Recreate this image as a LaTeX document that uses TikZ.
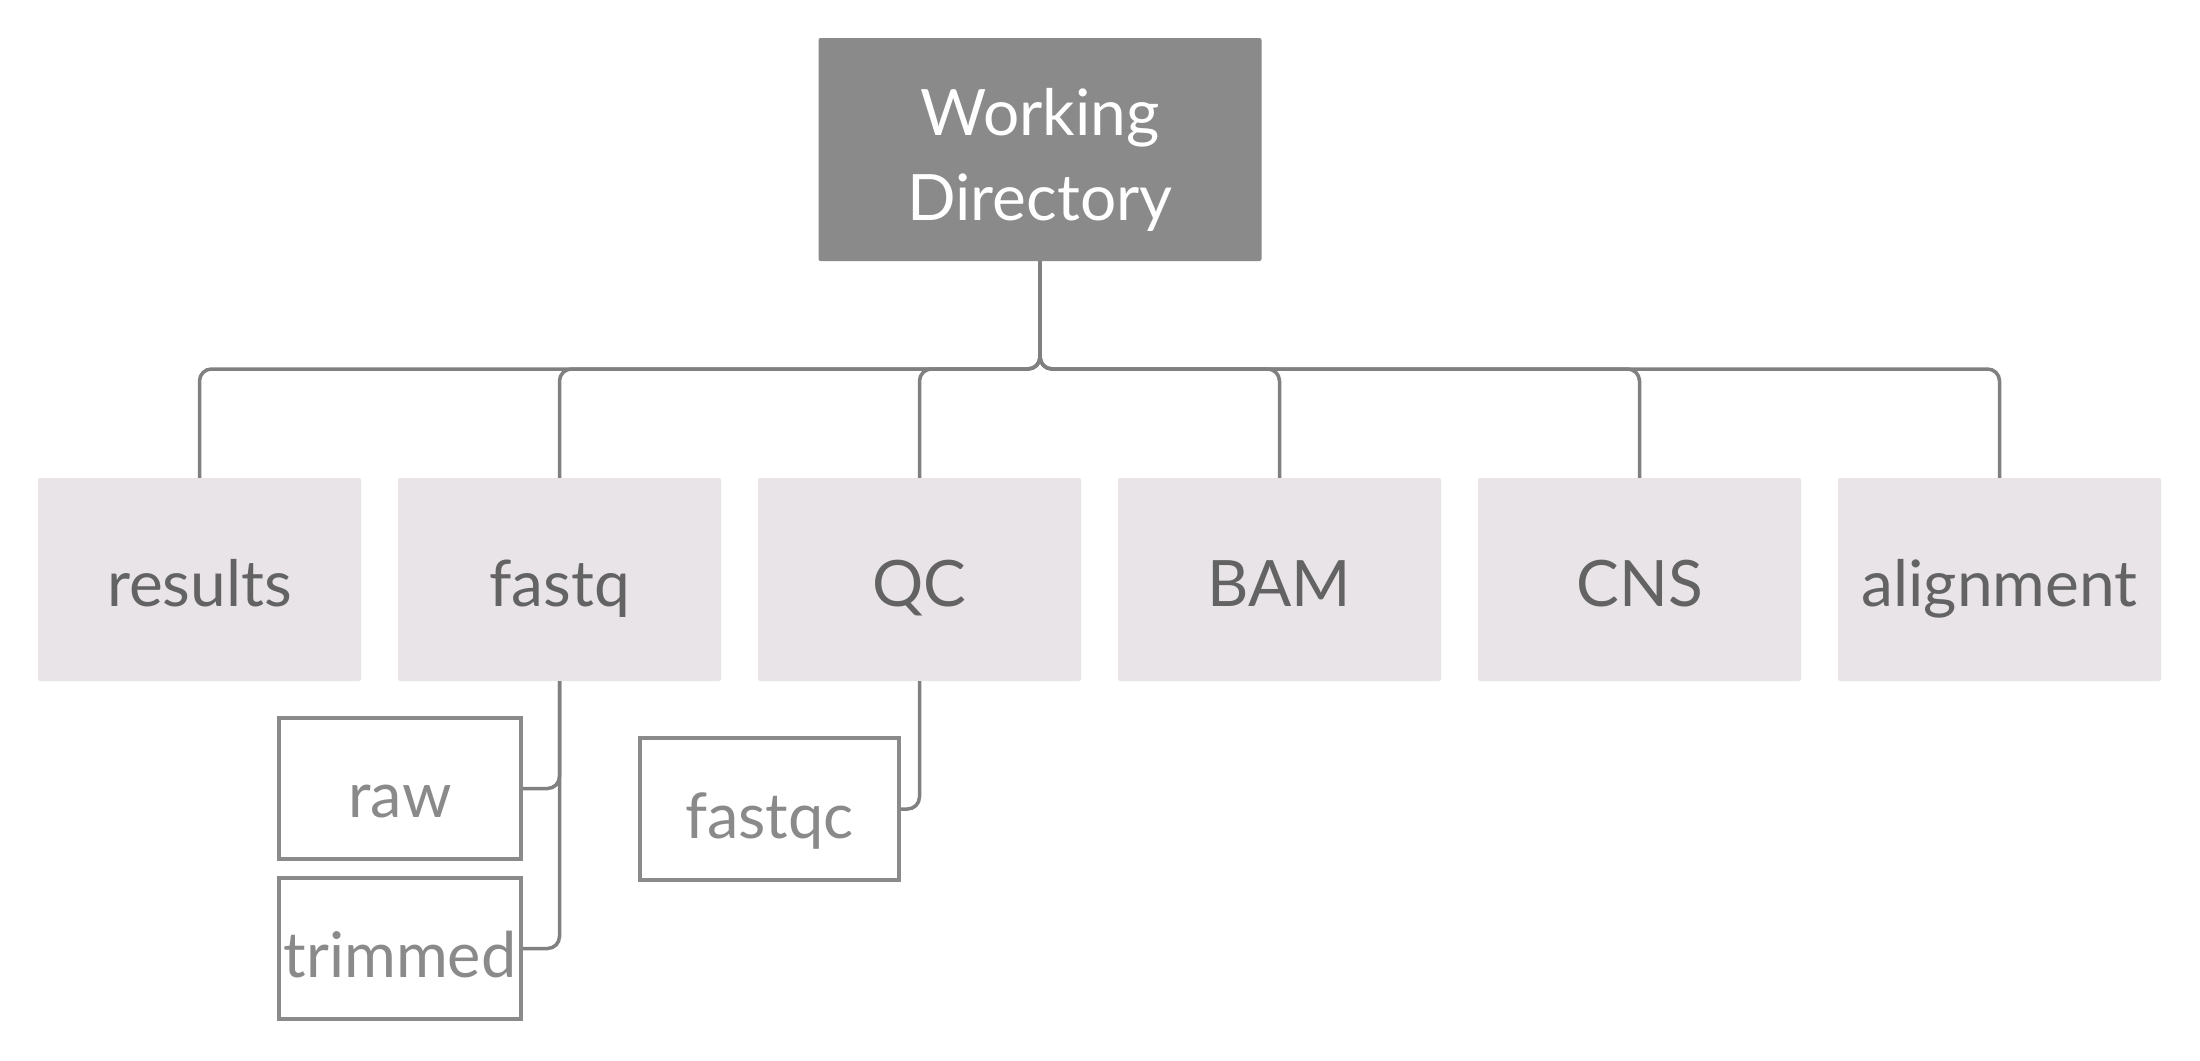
\documentclass[tikz,border=0pt]{standalone}
\usepackage{fontspec}
\setmainfont{Lato}
\definecolor{topfill}{HTML}{8A8A8A}
\definecolor{rowfill}{HTML}{E8E4E8}
\definecolor{rowtext}{HTML}{636363}
\definecolor{linecol}{HTML}{808080}
\definecolor{subcol}{HTML}{8A8A8A}
\begin{document}
\begin{tikzpicture}[x=1pt,y=-1pt,
  topbox/.style={fill=topfill,draw=none,rounded corners=2pt,minimum width=443pt,minimum height=223pt,inner sep=0pt,text=white,align=center,font=\fontsize{64}{85}\selectfont,text height=141pt,text depth=0pt},
  rowbox/.style={fill=rowfill,draw=none,rounded corners=2pt,minimum width=323pt,minimum height=203pt,inner sep=0pt,text=rowtext,font=\fontsize{64}{77}\selectfont,text height=53pt,text depth=0pt},
  subbox/.style={fill=white,draw=subcol,line width=3.5pt,minimum width=242pt,minimum height=141pt,inner sep=0pt,text=subcol,font=\fontsize{63}{74}\selectfont,text height=58pt,text depth=0pt},
  conn/.style={draw=linecol,line width=3.5pt,rounded corners=12pt}]
\path[use as bounding box,fill=white] (0,0) rectangle (2200,1060);
\node[topbox] (wd) at (1040,149.5) {Working\\Directory};
\node[rowbox] (results) at (199.5,579.5) {results};
\node[rowbox] (fastq) at (559.5,579.5) {fastq};
\node[rowbox] (qc) at (919.5,579.5) {QC};
\node[rowbox] (bam) at (1279.5,579.5) {BAM};
\node[rowbox] (cns) at (1639.5,579.5) {CNS};
\node[rowbox] (alignment) at (1999.5,579.5) {alignment};
\node[subbox] (raw) at (400,788.5) {raw};
\node[subbox] (trimmed) at (400,948.5) {trimmed};
\node[subbox,minimum width=259pt,minimum height=142pt] (fastqc) at (769.5,809) {fastqc};
\coordinate (busy) at (0,369);
\foreach \c in {results,fastq,qc,bam,cns,alignment}{
  \draw[conn] (wd.south) -- (wd.south |- busy) -| (\c.north);
}
\draw[conn] (fastq.south) |- (raw.east);
\draw[conn] (fastq.south) |- (trimmed.east);
\draw[conn] (qc.south) |- (fastqc.east);
\end{tikzpicture}
\end{document}
